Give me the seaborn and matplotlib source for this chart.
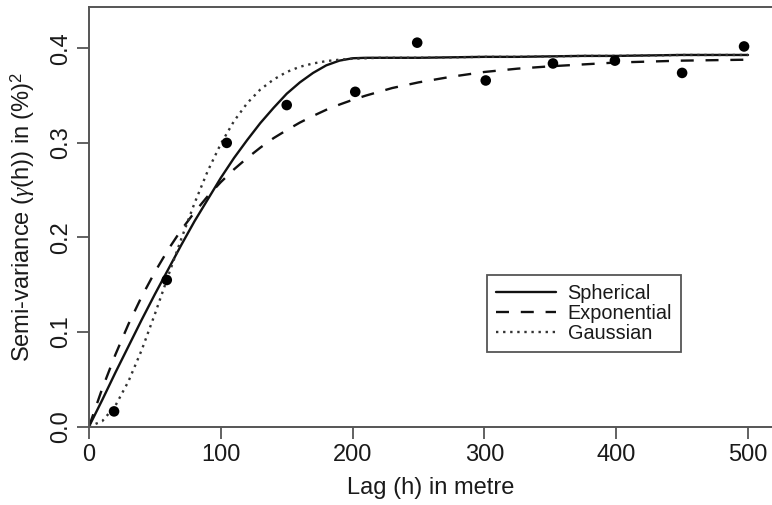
import numpy as np
import pandas as pd
import seaborn as sns
import matplotlib.pyplot as plt

# empirical semi-variogram (lag in metre, semi-variance)
lag_obs = [19, 59, 104.5, 150, 202, 249, 301, 352, 399, 450, 497]
gamma_obs = [0.016, 0.155, 0.300, 0.340, 0.354, 0.406, 0.366, 0.384, 0.387, 0.374, 0.402]

# fitted model curves
lag_model = [0, 10, 20, 30, 40, 50, 60, 70, 80, 90, 100, 110, 120, 130, 140, 150,
             160, 170, 180, 190, 200, 210, 220, 230, 240, 250, 275, 300, 325, 350,
             375, 400, 425, 450, 475, 500]
spherical = [0.000, 0.028, 0.057, 0.085, 0.113, 0.140, 0.166, 0.192, 0.217, 0.240,
             0.263, 0.284, 0.303, 0.321, 0.337, 0.352, 0.364, 0.374, 0.382, 0.387,
             0.3895, 0.390, 0.390, 0.390, 0.390, 0.390, 0.3905, 0.391, 0.391, 0.3915,
             0.392, 0.392, 0.3925, 0.393, 0.393, 0.393]
exponential = [0.000, 0.040, 0.076, 0.1085, 0.1375, 0.1635, 0.187, 0.208, 0.2265, 0.2435,
               0.2585, 0.272, 0.284, 0.295, 0.305, 0.3135, 0.3215, 0.3285, 0.335, 0.3405,
               0.3455, 0.350, 0.354, 0.358, 0.361, 0.364, 0.370, 0.375, 0.3785, 0.381,
               0.383, 0.385, 0.386, 0.387, 0.3875, 0.388]
gaussian = [0.000, 0.0056, 0.022, 0.048, 0.081, 0.119, 0.159, 0.1985, 0.236, 0.270,
            0.299, 0.323, 0.342, 0.3565, 0.367, 0.375, 0.3805, 0.384, 0.3865, 0.388,
            0.389, 0.3895, 0.390, 0.390, 0.390, 0.390, 0.3905, 0.391, 0.391, 0.3915,
            0.392, 0.392, 0.3925, 0.393, 0.393, 0.393]

model_names = ['Spherical', 'Exponential', 'Gaussian']

models = pd.DataFrame({
    'lag': lag_model * 3,
    'gamma': spherical + exponential + gaussian,
    'model': np.repeat(model_names, len(lag_model)),
})
obs = pd.DataFrame({'lag': lag_obs, 'gamma': gamma_obs})

sns.set_style('ticks')
plt.rcParams['font.family'] = ['Liberation Sans', 'DejaVu Sans']
plt.rcParams['mathtext.fontset'] = 'custom'
plt.rcParams['mathtext.it'] = 'Liberation Serif:italic'
plt.rcParams['mathtext.rm'] = 'Liberation Sans'

fig = plt.figure(figsize=(7.72, 5.05), dpi=100)
ax = fig.add_axes([0.1153, 0.1554, 0.8847, 0.8307])

sns.lineplot(data=models, x='lag', y='gamma', style='model', style_order=model_names,
             dashes={'Spherical': '', 'Exponential': (5.5, 5), 'Gaussian': (1, 2)},
             color='#111111', linewidth=1.7, estimator=None, sort=False,
             legend=False, ax=ax)
for ln in ax.lines:
    ln.set_dash_capstyle('butt')
ax.lines[2].set_color('#333333')

sns.scatterplot(data=obs, x='lag', y='gamma', color='black', s=58,
                edgecolor='none', zorder=3, ax=ax)

ax.set_xlim(0, 518.2)
ax.set_ylim(0, 0.4437)
ax.set_xticks([0, 100, 200, 300, 400, 500])
ax.set_yticks([0.0, 0.1, 0.2, 0.3, 0.4])
ax.set_yticklabels(['0.0', '0.1', '0.2', '0.3', '0.4'], rotation=90, va='center')

ax.tick_params(axis='both', labelsize=17, length=8.5, width=1.3, color='#555555',
               labelcolor='#1a1a1a')
ax.tick_params(axis='x', pad=4)
ax.tick_params(axis='y', pad=4)
for side in ['left', 'bottom', 'top']:
    ax.spines[side].set_linewidth(1.4)
    ax.spines[side].set_color('#555555')
ax.spines['right'].set_visible(False)

ax.set_xlabel('Lag (h) in metre', fontsize=17, color='#1a1a1a')
ax.set_ylabel(r'Semi-variance ($\gamma$(h)) in (%)$^2$', fontsize=17, color='#1a1a1a')
ax.xaxis.set_label_coords(0.5, -0.12)
ax.yaxis.set_label_coords(-0.076, 0.5)

leg = ax.legend(handles=ax.lines[:3], labels=model_names, loc='center',
                bbox_to_anchor=(0.7565, 0.3792), bbox_transform=fig.transFigure,
                fontsize=14.3, frameon=True, fancybox=False, framealpha=1,
                handlelength=3.0, handletextpad=0.6, labelspacing=0.05,
                borderpad=0.45, borderaxespad=0)
leg.get_frame().set_edgecolor('#555555')
leg.get_frame().set_linewidth(1.3)
for t in leg.get_texts():
    t.set_color('#1a1a1a')

fig.savefig('out.png', dpi=100)
